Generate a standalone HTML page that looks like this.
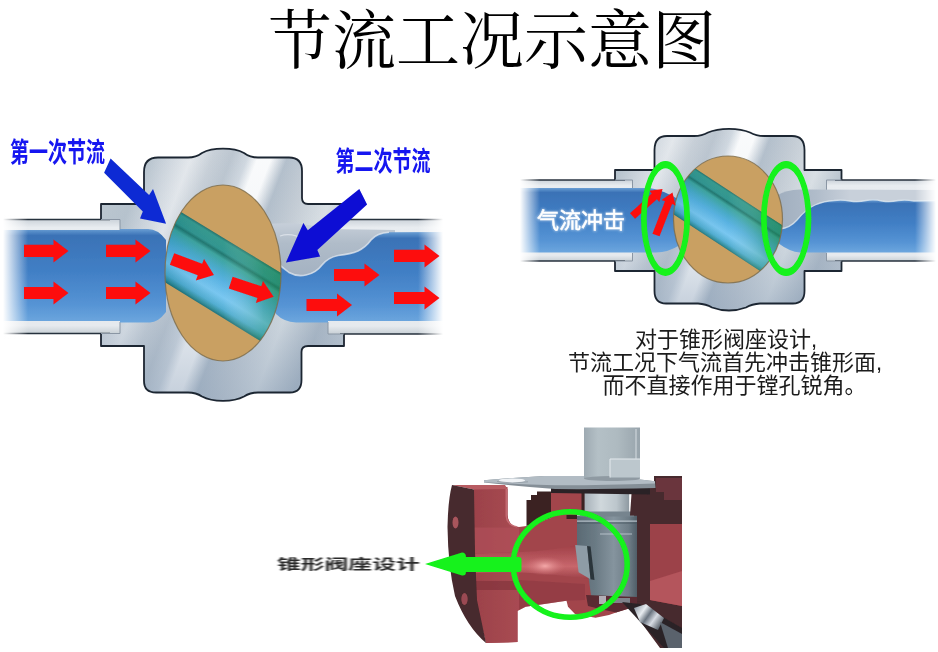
<!DOCTYPE html>
<html lang="zh">
<head>
<meta charset="utf-8">
<title>节流工况示意图</title>
<style>
html,body{margin:0;padding:0;background:#fff;}
body{width:938px;height:652px;overflow:hidden;position:relative;font-family:"Liberation Sans","Noto Sans CJK SC",sans-serif;}
svg{position:absolute;left:0;top:0;display:block;}
</style>
</head>
<body>
<svg width="938" height="652" viewBox="0 0 938 652">
<defs>
<filter id="b05" x="-5%" y="-5%" width="110%" height="110%"><feGaussianBlur stdDeviation="0.5"/></filter>
<filter id="b07" x="-5%" y="-5%" width="110%" height="110%"><feGaussianBlur stdDeviation="0.7"/></filter>
<filter id="b1" x="-5%" y="-5%" width="110%" height="110%"><feGaussianBlur stdDeviation="1"/></filter>
<filter id="b15" x="-10%" y="-10%" width="120%" height="120%"><feGaussianBlur stdDeviation="1.5"/></filter>
<filter id="b2" x="-10%" y="-10%" width="120%" height="120%"><feGaussianBlur stdDeviation="2"/></filter>
<filter id="b3" x="-20%" y="-20%" width="140%" height="140%"><feGaussianBlur stdDeviation="3"/></filter>
<linearGradient id="metal" gradientUnits="userSpaceOnUse" x1="0" y1="0" x2="466.5" y2="179.5">
<stop offset="0.300" stop-color="#c0cad2"/><stop offset="0.390" stop-color="#b8c4ce"/><stop offset="0.425" stop-color="#ccd4dc"/><stop offset="0.470" stop-color="#e4e8ec"/><stop offset="0.510" stop-color="#c8d0d8"/><stop offset="0.545" stop-color="#bcc6d0"/><stop offset="0.575" stop-color="#d0d8e0"/><stop offset="0.595" stop-color="#fafbfc"/><stop offset="0.620" stop-color="#fafbfc"/><stop offset="0.650" stop-color="#b4c0cc"/><stop offset="0.700" stop-color="#c6ced6"/><stop offset="0.760" stop-color="#dce2e6"/><stop offset="0.830" stop-color="#b0bcc8"/><stop offset="0.900" stop-color="#c8d0d8"/>
</linearGradient>
<linearGradient id="metalR" gradientUnits="userSpaceOnUse" x1="510" y1="0" x2="976.5" y2="179.5">
<stop offset="0.235" stop-color="#c0cad2"/><stop offset="0.325" stop-color="#b8c4ce"/><stop offset="0.360" stop-color="#ccd4dc"/><stop offset="0.405" stop-color="#e4e8ec"/><stop offset="0.445" stop-color="#c8d0d8"/><stop offset="0.480" stop-color="#bcc6d0"/><stop offset="0.510" stop-color="#d0d8e0"/><stop offset="0.530" stop-color="#fafbfc"/><stop offset="0.555" stop-color="#fafbfc"/><stop offset="0.585" stop-color="#b4c0cc"/><stop offset="0.635" stop-color="#c6ced6"/><stop offset="0.695" stop-color="#dce2e6"/><stop offset="0.765" stop-color="#b0bcc8"/><stop offset="0.835" stop-color="#c8d0d8"/>
</linearGradient>
<linearGradient id="metalV" x1="0" y1="0" x2="0" y2="1">
<stop offset="0" stop-color="#8098b4" stop-opacity="0"/><stop offset="0.55" stop-color="#8098b4" stop-opacity="0.08"/><stop offset="1" stop-color="#7890ac" stop-opacity="0.42"/>
</linearGradient>
<linearGradient id="waterV" x1="0" y1="0" x2="0" y2="1">
<stop offset="0" stop-color="#6a9ed4"/><stop offset="0.07" stop-color="#3a72b6"/><stop offset="0.45" stop-color="#417fc5"/><stop offset="0.8" stop-color="#5593d4"/><stop offset="1" stop-color="#6ca6de"/>
</linearGradient>
<linearGradient id="fadeL" gradientUnits="userSpaceOnUse" x1="3" y1="0" x2="28" y2="0">
<stop offset="0" stop-color="#fff" stop-opacity="1"/><stop offset="1" stop-color="#fff" stop-opacity="0"/>
</linearGradient>
<linearGradient id="fadeR" gradientUnits="userSpaceOnUse" x1="418" y1="0" x2="443" y2="0">
<stop offset="0" stop-color="#fff" stop-opacity="0"/><stop offset="1" stop-color="#fff" stop-opacity="1"/>
</linearGradient>
<linearGradient id="fadeL2" gradientUnits="userSpaceOnUse" x1="520" y1="0" x2="540" y2="0">
<stop offset="0" stop-color="#fff" stop-opacity="1"/><stop offset="1" stop-color="#fff" stop-opacity="0"/>
</linearGradient>
<linearGradient id="fadeR2" gradientUnits="userSpaceOnUse" x1="915" y1="0" x2="936" y2="0">
<stop offset="0" stop-color="#fff" stop-opacity="0"/><stop offset="1" stop-color="#fff" stop-opacity="1"/>
</linearGradient>
<linearGradient id="chanL" gradientUnits="userSpaceOnUse" x1="0" y1="0" x2="-35.6" y2="58.3">
<stop offset="0" stop-color="#1c6f6a"/><stop offset="0.06" stop-color="#2a9088"/><stop offset="0.2" stop-color="#238a84"/><stop offset="0.24" stop-color="#1a7570"/><stop offset="0.3" stop-color="#2f9ea0"/>
<stop offset="0.55" stop-color="#4aa8d8"/><stop offset="0.75" stop-color="#62b6e6"/><stop offset="0.9" stop-color="#3a9cc0"/><stop offset="1" stop-color="#1f8088"/>
</linearGradient>
<linearGradient id="pipeV" x1="0" y1="0" x2="0" y2="1">
<stop offset="0" stop-color="#ccd3da"/><stop offset="0.07" stop-color="#e8ecf0"/><stop offset="0.5" stop-color="#e4e8ec"/><stop offset="0.93" stop-color="#e6eaee"/><stop offset="1" stop-color="#c8d0d6"/>
</linearGradient>
<clipPath id="ballL"><ellipse cx="223" cy="273" rx="58" ry="88"/></clipPath>
<clipPath id="ballR"><ellipse cx="729" cy="226" rx="55" ry="70"/></clipPath>
</defs>
<defs>
<linearGradient id="chanLg" gradientUnits="userSpaceOnUse" x1="181.3" y1="212.2" x2="145.9" y2="270.2">
<stop offset="0" stop-color="#1a6a64"/><stop offset="0.04" stop-color="#2b9488"/><stop offset="0.17" stop-color="#27908a"/><stop offset="0.21" stop-color="#177068"/><stop offset="0.27" stop-color="#34a09a"/>
<stop offset="0.42" stop-color="#40a6c6"/><stop offset="0.55" stop-color="#50aee0"/><stop offset="0.75" stop-color="#72c4f0"/><stop offset="0.9" stop-color="#4aaad0"/><stop offset="0.97" stop-color="#2a8a98"/><stop offset="1" stop-color="#1c7078"/>
</linearGradient>
<linearGradient id="chanLsh" gradientUnits="userSpaceOnUse" x1="165" y1="0" x2="281" y2="0">
<stop offset="0" stop-color="#0a5a7a" stop-opacity="0.15"/><stop offset="0.5" stop-color="#fff" stop-opacity="0.05"/><stop offset="0.85" stop-color="#3a9a60" stop-opacity="0.35"/><stop offset="1" stop-color="#2a8a50" stop-opacity="0.45"/>
</linearGradient>
<linearGradient id="pockL" gradientUnits="userSpaceOnUse" x1="0" y1="222" x2="0" y2="275">
<stop offset="0" stop-color="#c8d0da"/><stop offset="0.4" stop-color="#b0bcc9"/><stop offset="1" stop-color="#a4b2c2"/>
</linearGradient>
</defs>
<g filter="url(#b07)">
<rect x="0" y="219.5" width="121" height="114" fill="url(#pipeV)"/>
<rect x="327" y="219.5" width="118" height="114.5" fill="url(#pipeV)"/>
<path d="M0,219.5H110M0,333.5H110M340,219.5H445M340,334H445" stroke="#26303c" stroke-width="1.6" fill="none"/>
<path d="M144,172 Q144,157.5 158,157.5 L188,157.5 Q196,157.5 202,153 Q210,148.7 223,148.7 Q236,148.7 244,153 Q250,157.5 258,157.5 L289,157.5 Q302,157.5 302,171 L302,198 Q302,204 308,204 L345,204 L345,219.5 L328,219.5 L328,334 L344,334 L344,346 L308,346 Q301.5,346 301.5,352 L301.5,380 Q301.5,392.5 290,392.5 L258,392.5 Q250,392.5 244,396.5 Q236,400.8 223,400.8 Q210,400.8 202,396.5 Q196,392.5 188,392.5 L156,392.5 Q144,392.5 144,381 L144,346 L101,346 L101,333.5 L120,333.5 L120,219.5 L101,219.5 L101,204 L144,204 Z" fill="url(#metal)"/>
<path d="M144,172 Q144,157.5 158,157.5 L188,157.5 Q196,157.5 202,153 Q210,148.7 223,148.7 Q236,148.7 244,153 Q250,157.5 258,157.5 L289,157.5 Q302,157.5 302,171 L302,198 Q302,204 308,204 L345,204 L345,219.5 L328,219.5 L328,334 L344,334 L344,346 L308,346 Q301.5,346 301.5,352 L301.5,380 Q301.5,392.5 290,392.5 L258,392.5 Q250,392.5 244,396.5 Q236,400.8 223,400.8 Q210,400.8 202,396.5 Q196,392.5 188,392.5 L156,392.5 Q144,392.5 144,381 L144,346 L101,346 L101,333.5 L120,333.5 L120,219.5 L101,219.5 L101,204 L144,204 Z" fill="url(#metalV)"/>
<path d="M101,219.5 L101,204 L144,204 L144,172 Q144,157.5 158,157.5 L188,157.5 Q196,157.5 202,153 Q210,148.7 223,148.7 Q236,148.7 244,153 Q250,157.5 258,157.5 L289,157.5 Q302,157.5 302,171 L302,198 Q302,204 308,204 L345,204 L345,219.5 M344,334 L344,346 L308,346 Q301.5,346 301.5,352 L301.5,380 Q301.5,392.5 290,392.5 L258,392.5 Q250,392.5 244,396.5 Q236,400.8 223,400.8 Q210,400.8 202,396.5 Q196,392.5 188,392.5 L156,392.5 Q144,392.5 144,381 L144,346 L101,346 L101,333.5" fill="none" stroke="#1c2632" stroke-width="1.8" stroke-linejoin="round"/>
<path d="M120,219.5V230M120,322V333.5M328,219.5V231M328,322V334M101,219.5H120M101,333.5H120M328,219.5H345M328,334H344" stroke="#8a96a4" stroke-width="1" fill="none"/>
<path d="M0,230 L120,230 L120,229 L148,229 Q158,229 166,240 L166,312 Q158,322.5 150,322.5 L120,322.5 L120,321 L0,321 Z" fill="url(#waterV)"/>
<path d="M266,224 Q300,221 328,229 L395,230 L395,240 L270,292 Z" fill="url(#pockL)"/>
<path d="M270,258 Q281,266 289,272.5 Q297,277 306,275 Q316,273 322,265 Q328,257.5 338,255.5 Q351,254 358,251 Q366,247 371,240 Q377,233 389,232.3 L445,232 L445,321 L328,321 L328,322.5 L296,322.5 Q284,322 276,314 L268,300 Z" fill="url(#waterV)"/>
<path d="M270,258 Q281,266 289,272.5 Q297,277 306,275 Q316,273 322,265 Q328,257.5 338,255.5 Q351,254 358,251 Q366,247 371,240 Q377,233 389,232.3" fill="none" stroke="#e4eaf0" stroke-width="1.6" opacity="0.75"/>
<path d="M280,236 Q292,232 304,240 Q314,247 320,256" fill="none" stroke="#eef2f6" stroke-width="1.2" opacity="0.6"/>
<rect x="0" y="215" width="30" height="124" fill="url(#fadeL)"/>
<rect x="416" y="215" width="32" height="124" fill="url(#fadeR)"/>
<ellipse cx="223" cy="273" rx="58" ry="88" fill="#c9a062"/>
<g clip-path="url(#ballL)">
<path d="M150,193.1 L300,284.6 L300,365.5 L150,273 Z" fill="url(#chanLg)"/>
<path d="M150,193.1 L300,284.6 L300,365.5 L150,273 Z" fill="url(#chanLsh)"/>
</g>
<ellipse cx="223" cy="273" rx="58" ry="88" fill="none" stroke="#7a6a4a" stroke-width="1.2" opacity="0.8"/>
</g>
<g filter="url(#b07)">
<path d="M24.0,244.8 L53.5,244.8 L53.5,239.5 L68.5,251.0 L53.5,262.5 L53.5,257.1 L24.0,257.1Z" fill="#fd0c10"/>
<path d="M106.0,244.8 L135.5,244.8 L135.5,239.5 L150.5,251.0 L135.5,262.5 L135.5,257.1 L106.0,257.1Z" fill="#fd0c10"/>
<path d="M24.0,286.9 L53.5,286.9 L53.5,281.5 L68.5,293.0 L53.5,304.5 L53.5,299.1 L24.0,299.1Z" fill="#fd0c10"/>
<path d="M106.0,286.9 L135.5,286.9 L135.5,281.5 L150.5,293.0 L135.5,304.5 L135.5,299.1 L106.0,299.1Z" fill="#fd0c10"/>
<path d="M394.0,249.8 L424.5,249.8 L424.5,244.5 L439.5,256.0 L424.5,267.5 L424.5,262.1 L394.0,262.1Z" fill="#fd0c10"/>
<path d="M334.0,268.9 L364.5,268.9 L364.5,263.5 L379.5,275.0 L364.5,286.5 L364.5,281.1 L334.0,281.1Z" fill="#fd0c10"/>
<path d="M306.5,298.9 L337.0,298.9 L337.0,293.5 L352.0,305.0 L337.0,316.5 L337.0,311.1 L306.5,311.1Z" fill="#fd0c10"/>
<path d="M394.0,291.9 L424.5,291.9 L424.5,286.5 L439.5,298.0 L424.5,309.5 L424.5,304.1 L394.0,304.1Z" fill="#fd0c10"/>
<path d="M172.0,252.8 L201.9,252.8 L201.9,247.5 L216.9,259.0 L201.9,270.5 L201.9,265.1 L172.0,265.1Z" fill="#fd0c10" transform="rotate(20.9 172.0 259.0)"/>
<path d="M230.7,276.5 L260.9,276.5 L260.9,271.1 L275.9,282.6 L260.9,294.1 L260.9,288.8 L230.7,288.8Z" fill="#fd0c10" transform="rotate(18.2 230.7 282.6)"/>
<path d="M110.6,158.5 L149.1,195 L153,189.1 L166.1,223.7 L140,218.5 L142.8,211.5 L104.1,172.8 Z" fill="#0e2cd4"/>
<path d="M359.3,189 L367.1,204.5 L317.3,250 L320.2,256.5 L285.9,262.4 L303.4,223 L307.8,230.3 Z" fill="#0a0cd4"/>
</g>
<defs>
<linearGradient id="chanRg" gradientUnits="userSpaceOnUse" x1="697" y1="169.5" x2="669.4" y2="211.7">
<stop offset="0" stop-color="#1a6a64"/><stop offset="0.04" stop-color="#2b9488"/><stop offset="0.17" stop-color="#27908a"/><stop offset="0.21" stop-color="#177068"/><stop offset="0.27" stop-color="#34a09a"/>
<stop offset="0.42" stop-color="#40a6c6"/><stop offset="0.55" stop-color="#50aee0"/><stop offset="0.75" stop-color="#72c4f0"/><stop offset="0.9" stop-color="#4aaad0"/><stop offset="0.97" stop-color="#2a8a98"/><stop offset="1" stop-color="#1c7078"/>
</linearGradient>
<linearGradient id="chanRsh" gradientUnits="userSpaceOnUse" x1="673" y1="0" x2="783" y2="0">
<stop offset="0" stop-color="#0a5a7a" stop-opacity="0.15"/><stop offset="0.5" stop-color="#fff" stop-opacity="0.05"/><stop offset="0.85" stop-color="#3a9a60" stop-opacity="0.35"/><stop offset="1" stop-color="#2a8a50" stop-opacity="0.45"/>
</linearGradient>
<clipPath id="ballRc"><ellipse cx="728" cy="219.5" rx="54.5" ry="63.5"/></clipPath>
<linearGradient id="pockR" gradientUnits="userSpaceOnUse" x1="782" y1="0" x2="850" y2="0">
<stop offset="0" stop-color="#a2b0c0"/><stop offset="0.5" stop-color="#b0bcca"/><stop offset="1" stop-color="#c8d0da"/>
</linearGradient>
</defs>
<g filter="url(#b07)">
<rect x="518" y="180" width="115.5" height="81" fill="url(#pipeV)"/>
<rect x="825.5" y="180" width="112" height="81" fill="url(#pipeV)"/>
<path d="M518,180H625M518,261H625M835,180H938M835,261H938" stroke="#26303c" stroke-width="1.6" fill="none"/>
<path d="M654.5,150 Q654.5,136 667,136 L694,136 Q702,136 708,132.5 Q716,128.8 729,128.8 Q742,128.8 750,132.5 Q756,136 764,136 L792,136 Q804.5,136 804.5,150 L804.5,170 L841.5,170 L841.5,180 L826.5,180 L826.5,261 L841.5,261 L841.5,271 L804.5,271 L804.5,291 Q804.5,303.5 793,303.5 L760,303.5 Q752,304 746,307.5 Q738,310.5 729,310.5 Q720,310.5 712,307.5 Q706,304 698,303.5 L666,303.5 Q654.5,303.5 654.5,291 L654.5,271 L615,271 L615,261 L632.5,261 L632.5,180 L615,180 L615,170 L654.5,170 Z" fill="url(#metalR)"/>
<path d="M654.5,150 Q654.5,136 667,136 L694,136 Q702,136 708,132.5 Q716,128.8 729,128.8 Q742,128.8 750,132.5 Q756,136 764,136 L792,136 Q804.5,136 804.5,150 L804.5,170 L841.5,170 L841.5,180 L826.5,180 L826.5,261 L841.5,261 L841.5,271 L804.5,271 L804.5,291 Q804.5,303.5 793,303.5 L760,303.5 Q752,304 746,307.5 Q738,310.5 729,310.5 Q720,310.5 712,307.5 Q706,304 698,303.5 L666,303.5 Q654.5,303.5 654.5,291 L654.5,271 L615,271 L615,261 L632.5,261 L632.5,180 L615,180 L615,170 L654.5,170 Z" fill="url(#metalV)"/>
<path d="M615,180 L615,170 L654.5,170 L654.5,150 Q654.5,136 667,136 L694,136 Q702,136 708,132.5 Q716,128.8 729,128.8 Q742,128.8 750,132.5 Q756,136 764,136 L792,136 Q804.5,136 804.5,150 L804.5,170 L841.5,170 L841.5,180 M841.5,261 L841.5,271 L804.5,271 L804.5,291 Q804.5,303.5 793,303.5 L760,303.5 Q752,304 746,307.5 Q738,310.5 729,310.5 Q720,310.5 712,307.5 Q706,304 698,303.5 L666,303.5 Q654.5,303.5 654.5,291 L654.5,271 L615,271 L615,261" fill="none" stroke="#1c2632" stroke-width="1.8" stroke-linejoin="round"/>
<path d="M632.5,180V188M632.5,253V261M826.5,180V190M826.5,253V261M615,180H632.5M615,261H632.5M826.5,180H841.5M826.5,261H841.5" stroke="#8a96a4" stroke-width="1" fill="none"/>
<path d="M518,188 L650,188 Q660,189 680,200 L680,245 Q668,252.5 656,252.5 L518,252.5 Z" fill="url(#waterV)"/>
<path d="M776,196 Q786,189.5 800,189.5 L938,190 L938,210 L780,235 Z" fill="url(#pockR)"/>
<path d="M780,229 Q790,228 797,220 Q806,209 815,205 Q824,201 834,200.5 Q842,199.5 850,201 Q858,202.5 866,200.5 Q874,199 882,201 Q890,202.5 898,200.5 Q906,199.5 914,201 L938,200.5 L938,252.5 L800,252.5 Q790,252 778,243 Z" fill="url(#waterV)"/>
<path d="M780,229 Q790,228 797,220 Q806,209 815,205 Q824,201 834,200.5 Q842,199.5 850,201 Q858,202.5 866,200.5 Q874,199 882,201 Q890,202.5 898,200.5 Q906,199.5 914,201 L938,200.5" fill="none" stroke="#dfe8f0" stroke-width="1.3" opacity="0.8"/>
<rect x="516" y="176" width="26" height="90" fill="url(#fadeL2)"/>
<rect x="913" y="176" width="25" height="90" fill="url(#fadeR2)"/>
<ellipse cx="728" cy="219.5" rx="54.5" ry="63.5" fill="#c9a062"/>
<g clip-path="url(#ballRc)">
<path d="M660,145.3 L800,237.0 L800,297.2 L660,205.5 Z" fill="url(#chanRg)"/>
<path d="M660,145.3 L800,237.0 L800,297.2 L660,205.5 Z" fill="url(#chanRsh)"/>
</g>
<ellipse cx="728" cy="219.5" rx="54.5" ry="63.5" fill="none" stroke="#7a6a4a" stroke-width="1.2" opacity="0.8"/>
</g>
<g filter="url(#b05)">
<path d="M632.5,212.2 L661.9,212.2 L661.9,208.5 L672.9,216.0 L661.9,223.5 L661.9,219.8 L632.5,219.8Z" fill="#fd0c10" transform="rotate(-42.0 632.5 216.0)"/>
<path d="M656.0,231.2 L690.6,231.2 L690.6,227.5 L701.6,235.0 L690.6,242.5 L690.6,238.8 L656.0,238.8Z" fill="#fd0c10" transform="rotate(-68.8 656.0 235.0)"/>
<path d="M641.00,218.50 A24.50,57.50 0 1,1 690.00,218.50 A24.50,57.50 0 1,1 641.00,218.50 Z M646.70,218.50 A18.80,50.20 0 1,1 684.30,218.50 A18.80,50.20 0 1,1 646.70,218.50 Z" fill="#12f21a" fill-rule="evenodd"/>
<path d="M761.00,218.50 A25.20,57.50 0 1,1 811.40,218.50 A25.20,57.50 0 1,1 761.00,218.50 Z M766.70,218.50 A19.50,50.20 0 1,1 805.70,218.50 A19.50,50.20 0 1,1 766.70,218.50 Z" fill="#12f21a" fill-rule="evenodd"/>
</g>
<defs>
<linearGradient id="stemG" gradientUnits="userSpaceOnUse" x1="584" y1="0" x2="640" y2="0">
<stop offset="0" stop-color="#9eaab2"/><stop offset="0.25" stop-color="#b4c0c6"/><stop offset="0.6" stop-color="#aebac0"/><stop offset="1" stop-color="#98a4ac"/>
</linearGradient>
<linearGradient id="stem2G" gradientUnits="userSpaceOnUse" x1="585" y1="0" x2="630" y2="0">
<stop offset="0" stop-color="#a8b2ba"/><stop offset="0.35" stop-color="#d0d8dc"/><stop offset="0.7" stop-color="#bcc6cc"/><stop offset="1" stop-color="#8a969e"/>
</linearGradient>
<linearGradient id="plugG" gradientUnits="userSpaceOnUse" x1="577" y1="0" x2="638" y2="0">
<stop offset="0" stop-color="#5a6a74"/><stop offset="0.3" stop-color="#6a7a84"/><stop offset="0.6" stop-color="#85949e"/><stop offset="0.85" stop-color="#6d7c86"/><stop offset="1" stop-color="#4c5a64"/>
</linearGradient>
<linearGradient id="plateG" gradientUnits="userSpaceOnUse" x1="0" y1="476" x2="0" y2="488">
<stop offset="0" stop-color="#a9b3bb"/><stop offset="0.55" stop-color="#9aa4ac"/><stop offset="0.6" stop-color="#7c868e"/><stop offset="1" stop-color="#6c767e"/>
</linearGradient>
<linearGradient id="boreG" gradientUnits="userSpaceOnUse" x1="0" y1="546" x2="0" y2="580">
<stop offset="0" stop-color="#a24249"/><stop offset="0.3" stop-color="#b4535a"/><stop offset="0.6" stop-color="#c8676c"/><stop offset="1" stop-color="#9a3e45"/>
</linearGradient>
<radialGradient id="hlG" gradientUnits="userSpaceOnUse" cx="545" cy="566" r="16" gradientTransform="translate(545 566) scale(1.3 0.6) translate(-545 -566)">
<stop offset="0" stop-color="#f4a8a8"/><stop offset="1" stop-color="#d07378" stop-opacity="0"/>
</radialGradient>
<linearGradient id="flangeG" gradientUnits="userSpaceOnUse" x1="474" y1="0" x2="518" y2="0">
<stop offset="0" stop-color="#9c424a"/><stop offset="1" stop-color="#a84a52"/>
</linearGradient>
<linearGradient id="nutG" gradientUnits="userSpaceOnUse" x1="634" y1="606" x2="662" y2="626">
<stop offset="0" stop-color="#8a94a0"/><stop offset="0.3" stop-color="#e8ecf0"/><stop offset="0.5" stop-color="#6a7480"/><stop offset="0.7" stop-color="#d8dce4"/><stop offset="1" stop-color="#4a525c"/>
</linearGradient>
</defs>
<g filter="url(#b07)">
<path d="M632,487 L654,487 L654,476 L682,476 L682,648 L660,648 L632,610 Z" fill="#47292d"/>
<path d="M656,478 L682,478 L682,500 L664,500 L664,492 L656,492 Z" fill="#6a363c"/>
<path d="M650,524 L682,524 L682,606 L650,600 Z" fill="#9c424a"/>
<path d="M650,581 L682,571 L682,606 L650,600 Z" fill="#b4545b"/>
<path d="M507.5,487 L507.5,515 Q508,526 519,527 L526.5,526 L551,518 L551,492 L582,492 L582,515 L577,515 L577,545 L592,545 L592,602 L637,602 L637,606 L616,612.6 L609,615 L595.5,617.8 L575,614 L568,606.7 L566.5,600.7 L525.6,606.7 L517.5,611 L517.5,642 L486,643 L474,560 L474,489 Z" fill="#a2454c"/>
<path d="M474,553.5 L522,552 Q550,551 576,545 L591,579.5 Q556,574 522,572.5 L474,573 Z" fill="url(#boreG)"/>
<ellipse cx="545" cy="566" rx="21" ry="10" fill="url(#hlG)"/>
<path d="M519,580 L585,584 L585,600 L566.5,600.7 L525.6,606.7 L519,610 Z" fill="#8a3840" opacity="0.55"/>
<path d="M474,489 L507.5,489 L507.5,515 Q508,526 519,527.5 L519,552 L474,553.5 Z" fill="url(#flangeG)"/>
<path d="M472,573 L519,572.5 L519,609 L517.5,611 L517.5,642 L486,643 L475,600 Z" fill="url(#flangeG)"/>
<path d="M452,485 L505,485 L507.5,489 L474,489.5 Z" fill="#b85c62"/>
<path d="M474,581 L519,581 L519,590 L476,590 Z" fill="#7a3038" opacity="0.55"/>
<path d="M506.3,489 L506.3,516 Q507,525 517,527" stroke="#cc747a" stroke-width="1.6" fill="none" opacity="0.8"/>
<path d="M474,527.5 L519,527.5 L519,552 L474,553.5 Z" fill="#b2525a" opacity="0.6"/>
<path d="M452,485 L474,489.5 L475,552 L477,600 L486,643 Q467,627 455,596 Q448,566 447.5,527 Q448,500 452,485 Z" fill="#47292d"/>
<ellipse cx="455.5" cy="522.5" rx="3" ry="6" fill="#a8545c"/>
<ellipse cx="464.5" cy="599" rx="3.2" ry="6" fill="#9a4a52"/>
<path d="M526.5,500 L531,500 L531,495 L537,495 L537,491.5 L551,491.5 L551,518 L526.5,526 Z" fill="#3a2024"/>
<rect x="566.5" y="515" width="10.5" height="4" fill="#3a2024"/>
<rect x="581.5" y="493" width="4" height="23" fill="#3a2024"/>
<rect x="551" y="488" width="34" height="5" fill="#2e2226"/>
<rect x="584.6" y="486" width="44.6" height="27" fill="url(#stem2G)"/>
<rect x="584.6" y="486" width="45.4" height="5" fill="#8a949c" opacity="0.7"/>
<path d="M577,515.5 L637,515.5 L637,602 L592,602 L586,560 L577,545 Z" fill="url(#plugG)"/>
<rect x="580" y="511.5" width="54" height="5" fill="#76848e"/>
<path d="M577,521.2H637M600,534H632" stroke="#c4ced6" stroke-width="1.2" opacity="0.8"/>
<path d="M577,523H637" stroke="#44525c" stroke-width="1.2" opacity="0.8"/>
<path d="M575.2,545 L587.1,546 L590.5,579.2 L578.6,572.3 Z" fill="#8e9ca6"/>
<path d="M587.1,546 L590.6,546.5 L594.5,580 L590.5,579.2 Z" fill="#2c343a"/>
<path d="M586,595 L637,597 L637,606 L616,612.6 L600,609 L588,606 Z" fill="#5a2a30"/>
<rect x="599" y="596" width="7" height="8" fill="#c8d0d8" opacity="0.8"/>
<rect x="612" y="598" width="18" height="5" fill="#8a98a2" opacity="0.8"/>
<path d="M632,487 L650,487 L650,600 L637,602 L637,515.5 L630,515.5 Z" fill="#47292d"/>
<path d="M551,487 L650,487 L650,494.5 L551,493 Z" fill="#2a2226"/>
<path d="M484,480.3 Q515,477.5 544,476 L600,476 Q630,478 655,481.3 L655.5,488 Q600,489.5 555,489 Q520,486.5 484,482.6 Z" fill="#858f97"/>
<path d="M484,480.3 Q515,477.5 544,476 L600,476 Q630,478 655,481.3 L655,483.5 Q600,485.5 555,485.3 Q520,484.5 484,482.3 Z" fill="#b2bcc4"/>
<ellipse cx="512" cy="480.6" rx="13" ry="2.1" fill="#f0f3f6"/>
<path d="M497,481.5 Q512,484.5 528,481.8" stroke="#8a949c" stroke-width="1" fill="none" opacity="0.7"/>
<rect x="584" y="427.5" width="56" height="51" fill="url(#stemG)"/>
<ellipse cx="612" cy="478.5" rx="28" ry="2.5" fill="#8f9aa2"/>
<rect x="610" y="459" width="30" height="18.5" fill="#bcc7cd"/>
<path d="M610,477.5V459H640" stroke="#e4eaee" stroke-width="1" fill="none"/>
<path d="M636,429V459" stroke="#d8e0e4" stroke-width="1.2" fill="none" opacity="0.8"/>
<path d="M622,602 L640,604 L682,628 L682,648 L664,648 Z" fill="#2a2428"/>
<path d="M634,608 L646,604 L664,618 L658,630 L640,622 Z" fill="url(#nutG)"/>
<path d="M660,622 L682,634 L682,648 L668,648 Z" fill="#5a626c"/>
</g>
<g filter="url(#b05)">
<ellipse cx="570.2" cy="564.5" rx="57" ry="52.8" fill="none" stroke="#12f21a" stroke-width="5.5"/>
<path d="M425,564 L462,552.5 Q466,552.5 466,557 L519,557 Q521.5,557 521.5,559.5 L521.5,569.5 Q521.5,572 519,572 L466,572 Q466,576 462,575.5 Z" fill="#12f21a"/>
</g>
<text x="492" y="63" text-anchor="middle" font-size="64" fill="#000" font-family="'Liberation Serif','Noto Serif CJK SC',serif">节流工况示意图</text>
<text transform="translate(10 162) scale(1 1.45)" font-size="19" font-weight="bold" fill="#1414f0" filter="url(#b05)" font-family="'Liberation Sans','Noto Sans CJK SC',sans-serif">第一次节流</text>
<text transform="translate(335.5 170.5) scale(1 1.45)" font-size="19" font-weight="bold" fill="#1414f0" filter="url(#b05)" font-family="'Liberation Sans','Noto Sans CJK SC',sans-serif">第二次节流</text>
<text x="537" y="228" font-size="22" fill="#fff" stroke="#fff" stroke-width="2" opacity="0.4" filter="url(#b1)" font-family="'Liberation Sans','Noto Sans CJK SC',sans-serif">气流冲击</text>
<text x="537" y="228" font-size="22" fill="#fff" stroke="#fff" stroke-width="0.5" filter="url(#b05)" font-family="'Liberation Sans','Noto Sans CJK SC',sans-serif">气流冲击</text>
<text x="635" y="346.5" font-size="22" fill="#1a1a1a" filter="url(#b05)" font-family="'Liberation Sans','Noto Sans CJK SC',sans-serif">对于锥形阀座设计,</text>
<text x="568" y="370" font-size="22" fill="#1a1a1a" filter="url(#b05)" font-family="'Liberation Sans','Noto Sans CJK SC',sans-serif">节流工况下气流首先冲击锥形面,</text>
<text x="602.5" y="393" font-size="22" fill="#1a1a1a" filter="url(#b05)" font-family="'Liberation Sans','Noto Sans CJK SC',sans-serif">而不直接作用于镗孔锐角。</text>
<text transform="translate(277 569) scale(1.7 1)" font-size="14" font-weight="bold" fill="#2a2a2a" filter="url(#b05)" font-family="'Liberation Sans','Noto Sans CJK SC',sans-serif">锥形阀座设计</text>
</svg>
</body>
</html>
